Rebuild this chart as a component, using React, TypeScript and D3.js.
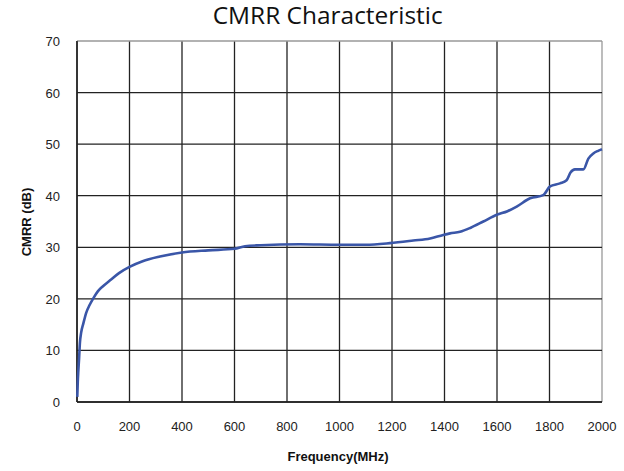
import React from "react";
import * as d3 from "d3";

const title = "CMRR Characteristic";
const xLabel = "Frequency(MHz)";
const yLabel = "CMRR (dB)";
const xTicks = [0, 200, 400, 600, 800, 1000, 1200, 1400, 1600, 1800, 2000];
const yTicks = [0, 10, 20, 30, 40, 50, 60, 70];

const freq = [1, 3, 5, 8, 11, 16, 24, 35, 48, 62, 80, 100, 126, 160, 200, 250, 316, 400, 500, 600, 640, 700, 850, 1000, 1100, 1192, 1281, 1345, 1395, 1421, 1459, 1500, 1548, 1599, 1640, 1675, 1726, 1776, 1802, 1840, 1865, 1880, 1897, 1929, 1948, 1967, 1985, 2000];
const cmrr = [1, 4, 6, 8.5, 11.4, 13.5, 15.2, 17.3, 18.8, 20.1, 21.5, 22.5, 23.6, 25.0, 26.2, 27.3, 28.2, 29.0, 29.4, 29.7, 30.2, 30.4, 30.6, 30.5, 30.5, 30.8, 31.3, 31.7, 32.4, 32.7, 33.0, 33.8, 35.0, 36.3, 37.0, 37.9, 39.5, 40.1, 41.8, 42.4, 43.0, 44.5, 45.1, 45.1, 47.2, 48.2, 48.7, 49.0];

export default function App() {
  const W = 624, H = 471;
  const x = d3.scaleLinear().domain([0, 2000]).range([77, 602]);
  const y = d3.scaleLinear().domain([0, 70]).range([402, 41]);
  const pts = freq.map((f, i) => [f, cmrr[i]] as [number, number]);
  const line = d3.line<[number, number]>().x(d => x(d[0])).y(d => y(d[1])).curve(d3.curveMonotoneX);
  const font = "'Liberation Sans', Arial, sans-serif";
  return (
    <svg width={W} height={H} style={{ position: "absolute", left: 0, top: 0, background: "#fff" }}>
      <text x={327.7} y={24} textAnchor="middle" fontFamily="'Open Sans', 'Noto Sans', sans-serif" fontSize={23.5} textLength={230} lengthAdjust="spacingAndGlyphs" fill="#111">{title}</text>
      {xTicks.map(t => (
        <line key={"vx" + t} x1={x(t)} x2={x(t)} y1={y(70)} y2={y(0)} stroke={t === 2000 ? "#999" : "#222"} strokeWidth={1.3} />
      ))}
      {yTicks.map(t => (
        <line key={"hy" + t} x1={x(0)} x2={x(2000)} y1={y(t)} y2={y(t)} stroke={t === 70 ? "#999" : "#222"} strokeWidth={1.3} />
      ))}
      <line x1={x(0)} x2={x(0)} y1={y(70)} y2={y(0)} stroke="#222" strokeWidth={1.5} />
      <line x1={x(0)} x2={x(2000)} y1={y(0)} y2={y(0)} stroke="#222" strokeWidth={1.5} />
      {yTicks.map(t => (
        <text key={"ly" + t} x={60} y={y(t) + 5} textAnchor="end" fontFamily={font} fontSize={13} fill="#222">{t}</text>
      ))}
      {xTicks.map(t => (
        <text key={"lx" + t} x={x(t)} y={431} textAnchor="middle" fontFamily={font} fontSize={13} fill="#222">{t}</text>
      ))}
      <path d={line(pts) || ""} fill="none" stroke="#3a56a8" strokeWidth={2.6} />
      <text x={338} y={461} textAnchor="middle" fontFamily={font} fontSize={13} fontWeight="bold" fill="#111">{xLabel}</text>
      <text transform={`translate(31,222) rotate(-90)`} textAnchor="middle" fontFamily={font} fontSize={13} fontWeight="bold" fill="#111">{yLabel}</text>
    </svg>
  );
}
